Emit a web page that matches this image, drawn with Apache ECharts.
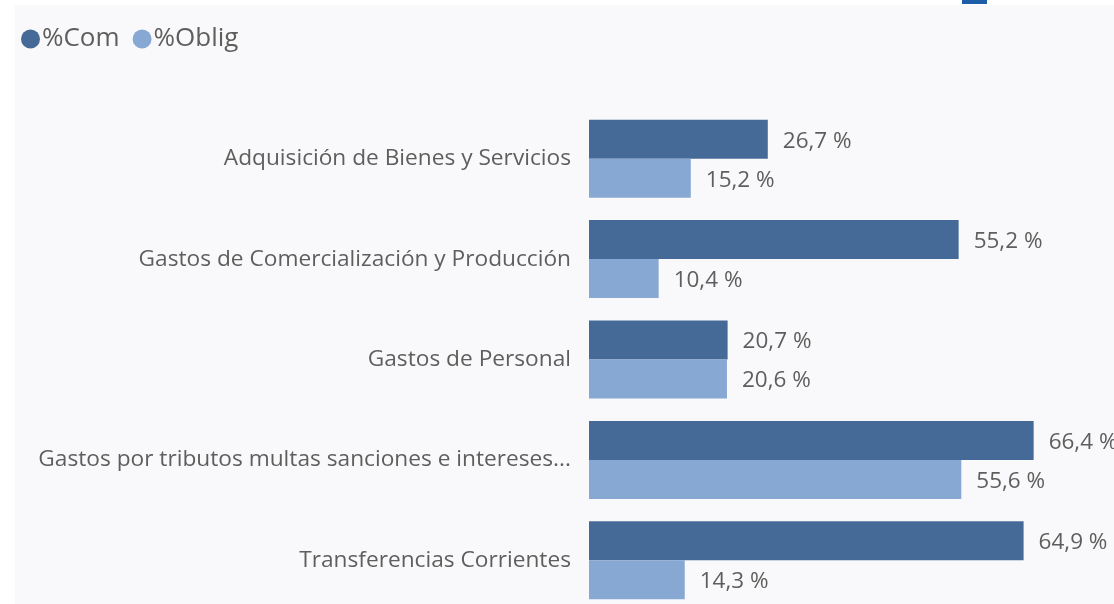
<!DOCTYPE html>
<html>
<head>
<meta charset="utf-8">
<script src="https://cdn.jsdelivr.net/npm/echarts@6/dist/echarts.min.js"></script>
<style>
  html, body { margin: 0; padding: 0; background: #fff; }
  #chart { width: 1114px; height: 604px; }
</style>
</head>
<body>
<div id="chart"></div>
<script>
// categorias (de arriba hacia abajo)
const categorias = [
  'Adquisición de Bienes y Servicios',
  'Gastos de Comercialización y Producción',
  'Gastos de Personal',
  'Gastos por tributos multas sanciones e intereses...',
  'Transferencias Corrientes'
]
const pctCom = [26.7, 55.2, 20.7, 66.4, 64.9]
const pctOblig = [15.2, 10.4, 20.6, 55.6, 14.3]
const nombresSeries = ['%Com', '%Oblig']

const txtColor = '#605E5C'
const fuente = '"Open Sans", "Noto Sans", sans-serif'

const fmt = p => p.value.toFixed(1).replace('.', ',') + ' %'

const chart = echarts.init(document.getElementById('chart'))

const option = {
  animation: false,
  backgroundColor: '#ffffff',
  textStyle: { fontFamily: fuente, color: txtColor },
  graphic: [
    // panel de fondo
    { type: 'rect', left: 15, top: 5, shape: { width: 1114, height: 600 }, style: { fill: '#f9f9fc' }, z: -10 },
    // pedazo de icono arriba
    { type: 'rect', left: 962, top: -2, shape: { width: 25, height: 6 }, style: { fill: '#1f5da8' }, z: -5 }
  ],
  legend: {
    data: nombresSeries,
    left: 16,
    top: 21,
    icon: 'circle',
    itemWidth: 19,
    itemHeight: 19,
    itemGap: 13,
    textStyle: { fontSize: 26, color: txtColor, fontFamily: fuente, padding: [0, 0, 0, -3] }
  },
  grid: {
    left: 589,
    top: 108.5,
    height: 502,
    width: 525,
    containLabel: false,
    outerBoundsMode: 'none'
  },
  xAxis: {
    type: 'value',
    min: 0,
    max: 78.4,
    show: false
  },
  yAxis: {
    type: 'category',
    data: categorias,
    inverse: true,
    axisLine: { show: false },
    axisTick: { show: false },
    axisLabel: { fontSize: 22.7, color: txtColor, margin: 18, fontFamily: fuente, padding: [5, 0, 0, 0] }
  },
  series: [
    {
      name: nombresSeries[0],
      type: 'bar',
      data: pctCom,
      barWidth: 39,
      barGap: '0%',
      itemStyle: { color: '#466A98' },
      label: { show: true, position: 'right', distance: 15, offset: [0, 2], fontSize: 22.5, color: txtColor, fontFamily: fuente, formatter: fmt }
    },
    {
      name: nombresSeries[1],
      type: 'bar',
      data: pctOblig,
      barWidth: 39,
      barGap: '0%',
      itemStyle: { color: '#88A8D4' },
      label: { show: true, position: 'right', distance: 15, offset: [0, 2], fontSize: 22.5, color: txtColor, fontFamily: fuente, formatter: fmt }
    }
  ]
}

chart.setOption(option)
</script>
</body>
</html>
